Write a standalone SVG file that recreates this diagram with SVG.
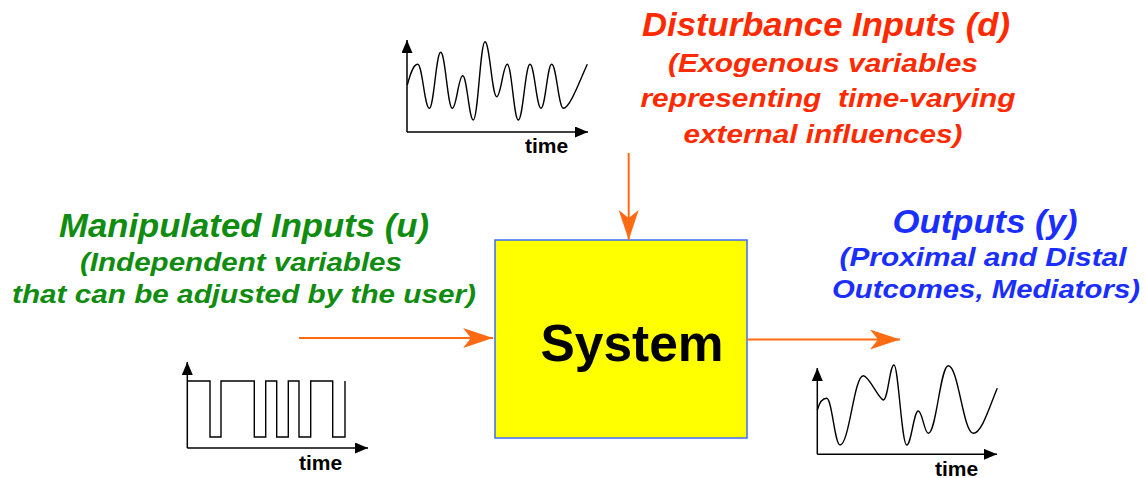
<svg xmlns="http://www.w3.org/2000/svg" width="1146" height="478" viewBox="0 0 1146 478">
<style>
.h{font-family:"Liberation Sans",Arial,sans-serif;font-weight:bold;font-style:italic;text-anchor:middle}
.red{fill:#ff2a00}
.grn{fill:#108c10}
.blu{fill:#1a2fff}
.t{font-family:"Liberation Sans",Arial,sans-serif;font-weight:bold;font-size:21px;fill:#000}
.ax{fill:none;stroke:#000;stroke-width:1.5}
.wave{fill:none;stroke:#000;stroke-width:1.4}
.conn{stroke:#ff6a13;stroke-width:2;fill:none}
</style>
<defs>
<marker id="oa" viewBox="0 0 30 20" refX="30" refY="10" markerWidth="30" markerHeight="20" markerUnits="userSpaceOnUse" orient="auto">
<path d="M0,0 L30,10 L0,20 L8,10 Z" fill="#ff6a13"/>
</marker>
<marker id="ka" viewBox="0 0 13 11" refX="13" refY="5.5" markerWidth="13" markerHeight="11" markerUnits="userSpaceOnUse" orient="auto">
<path d="M0,0 L13,5.5 L0,11 Z" fill="#000"/>
</marker>
</defs>

<g id="system">
<rect x="495" y="240" width="252" height="198" fill="#ffff00" stroke="#3d6bff" stroke-width="1.5"/>
<text x="632" y="361" font-family="Liberation Sans,Arial,sans-serif" font-weight="bold" font-size="52" text-anchor="middle" textLength="183" lengthAdjust="spacingAndGlyphs" fill="#000">System</text>
</g>

<g id="disturbance">
<text class="h red" x="826" y="36" font-size="33" textLength="368" lengthAdjust="spacingAndGlyphs">Disturbance Inputs (d)</text>
<text class="h red" x="823" y="72" font-size="26" textLength="310" lengthAdjust="spacingAndGlyphs">(Exogenous variables</text>
<text class="h red" x="828" y="107" font-size="26" textLength="375" lengthAdjust="spacingAndGlyphs" style="white-space:pre">representing  time-varying</text>
<text class="h red" x="823" y="143" font-size="26" textLength="279" lengthAdjust="spacingAndGlyphs">external influences)</text>
</g>

<g id="disturbance-plot">
<path class="ax" d="M407,132 V40" marker-end="url(#ka)"/>
<path class="ax" d="M407,132 H588" marker-end="url(#ka)"/>
<path class="wave" d="M407.3,85 C410,75 413,64.3 417.7,64.3 C422.3,64.3 424.7,108.3 429.3,108.3 C433.9,108.3 436.1,52.3 440.7,52.3 C445.3,52.3 447.7,108.3 452.3,108.3 C456.5,108.3 458.5,75.7 462.7,75.7 C466.9,75.7 469.1,120 473.3,120 C478,120 480.3,41.7 485,41.7 C489.7,41.7 492,96.7 496.7,96.7 C500.9,96.7 503.1,64.3 507.3,64.3 C511.7,64.3 513.9,120 518.3,120 C523,120 525.3,64.3 530,64.3 C534.4,64.3 536.6,108.3 541,108.3 C545.3,108.3 547.4,64.3 551.7,64.3 C556.3,64.3 558.7,108.3 563.3,108.3 C570,108.3 580,80 587.3,64.3"/>
<text class="t" x="525" y="153">time</text>
</g>

<g id="manipulated">
<text class="h grn" x="244" y="237" font-size="33" textLength="370" lengthAdjust="spacingAndGlyphs">Manipulated Inputs (u)</text>
<text class="h grn" x="241" y="271" font-size="26" textLength="322" lengthAdjust="spacingAndGlyphs">(Independent variables</text>
<text class="h grn" x="244" y="303" font-size="26" textLength="464" lengthAdjust="spacingAndGlyphs">that can be adjusted by the user)</text>
</g>

<g id="manipulated-plot">
<path class="ax" d="M187.3,448 V362" marker-end="url(#ka)"/>
<path class="ax" d="M187.3,448 H368" marker-end="url(#ka)"/>
<path class="wave" d="M187.3,381 H210 V437 H221 V381 H254.3 V437 H265.7 V381 H276.7 V437 H288.3 V381 H299 V437 H310.7 V381 H332.7 V437 H345 V381"/>
<text class="t" x="299" y="470">time</text>
</g>

<g id="outputs">
<text class="h blu" x="985" y="233" font-size="33" textLength="185" lengthAdjust="spacingAndGlyphs">Outputs (y)</text>
<text class="h blu" x="983" y="266" font-size="26" textLength="287" lengthAdjust="spacingAndGlyphs">(Proximal and Distal</text>
<text class="h blu" x="986" y="298" font-size="26" textLength="308" lengthAdjust="spacingAndGlyphs">Outcomes, Mediators)</text>
</g>

<g id="outputs-plot">
<path class="ax" d="M817.3,454.3 V368" marker-end="url(#ka)"/>
<path class="ax" d="M817.3,454.3 H997" marker-end="url(#ka)"/>
<path class="wave" d="M817.3,410 C819,404 822,398.3 826.7,398.3 C832,398.3 834.7,445 840,445 C849.3,445 854,375.7 863.3,375.7 C869,375.7 878,398 883.3,400 C888,400 889.7,365 894,365 C898.3,365 901.7,445 906.7,445 C911.3,445 913.7,411 918.3,411 C922.3,411 924.3,433.3 928.3,433.3 C936.3,433.3 940.3,365.7 948.3,365.7 C958.3,365.7 963.3,433.3 973.3,433.3 C982,433.3 990,405 997.3,388.3"/>
<text class="t" x="935" y="476">time</text>
</g>

<g id="connectors">
<path class="conn" d="M628.7,153 V240" marker-end="url(#oa)"/>
<path class="conn" d="M299,338 H493" marker-end="url(#oa)"/>
<path class="conn" d="M747,339.5 H900" marker-end="url(#oa)"/>
</g>
</svg>
